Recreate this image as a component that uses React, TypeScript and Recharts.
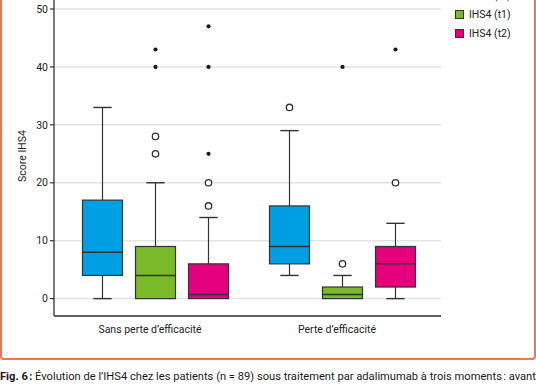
import React from "react";
import { ComposedChart, Bar, XAxis, YAxis, CartesianGrid } from "recharts";

const categories = ["Sans perte d’efficacité", "Perte d’efficacité"];
const seriesNames = ["IHS4 (t0)", "IHS4 (t1)", "IHS4 (t2)"];
const seriesColors = ["#009FE3", "#7AB929", "#E4007D"];

// per series, per category
const mins = [[0, 4], [0, 0], [0, 0]];
const q1s = [[4, 6], [0, 0], [0, 2]];
const medians = [[8, 9], [4, 0.7], [0.7, 6]];
const q3s = [[17, 16], [9, 2], [6, 9]];
const maxs = [[33, 29], [20, 4], [14, 13]];
const outlierCircles = [
  [[], [33]],
  [[28, 25], [6]],
  [[20, 16], [20]],
];
const outlierStars = [
  [[], []],
  [[43, 40], [40]],
  [[47, 40, 25], [43]],
];
const yTicks = [0, 10, 20, 30, 40, 50];

const rows = categories.map((name, i) => ({ name, i }));

const lowOf = (s: number, i: number) =>
  Math.min(mins[s][i], ...outlierCircles[s][i], ...outlierStars[s][i]);
const highOf = (s: number, i: number) =>
  Math.max(maxs[s][i], ...outlierCircles[s][i], ...outlierStars[s][i]);

const FONT = "Roboto, 'DejaVu Sans', sans-serif";
const INK = "#333333";

function BoxShape(props: any) {
  const { x, y, width, height, payload, s } = props;
  if (payload == null) return null;
  const i = payload.i;
  const lo = lowOf(s, i);
  const hi = highOf(s, i);
  const top = Math.min(y, y + height);
  const bottom = Math.max(y, y + height);
  const px = (v: number) => bottom - ((v - lo) / (hi - lo)) * (bottom - top);
  const cx = x + width / 2;
  const cap = width * 0.46;
  const q1 = px(q1s[s][i]);
  const q3 = px(q3s[s][i]);
  const med = px(medians[s][i]);
  const mn = px(mins[s][i]);
  const mx = px(maxs[s][i]);
  return (
    <g>
      {maxs[s][i] > q3s[s][i] && (
        <g>
          <line x1={cx} x2={cx} y1={q3} y2={mx} stroke={INK} strokeWidth={1.2} />
          <line x1={cx - cap / 2} x2={cx + cap / 2} y1={mx} y2={mx} stroke={INK} strokeWidth={1.4} />
        </g>
      )}
      {mins[s][i] < q1s[s][i] && (
        <g>
          <line x1={cx} x2={cx} y1={q1} y2={mn} stroke={INK} strokeWidth={1.2} />
          <line x1={cx - cap / 2} x2={cx + cap / 2} y1={mn} y2={mn} stroke={INK} strokeWidth={1.4} />
        </g>
      )}
      <rect
        x={x}
        y={q3}
        width={width}
        height={Math.max(q1 - q3, 1)}
        fill={seriesColors[s]}
        stroke={INK}
        strokeWidth={1.2}
      />
      <line x1={x} x2={x + width} y1={med} y2={med} stroke={INK} strokeWidth={1.5} />
      {outlierCircles[s][i].map((v: number, k: number) => (
        <circle key={"c" + k} cx={cx} cy={px(v)} r={3.2} fill="#fff" stroke={INK} strokeWidth={1.3} />
      ))}
      {outlierStars[s][i].map((v: number, k: number) => (
        <circle key={"s" + k} cx={cx} cy={px(v)} r={2.1} fill="#1a1a1a" />
      ))}
    </g>
  );
}

const XTick = (props: any) => {
  const { x, y, payload } = props;
  return (
    <text x={x - 5} y={y + 9} textAnchor="middle" fontSize={10.5} fill="#222" fontFamily={FONT}>
      {payload.value}
    </text>
  );
};

export default function App() {
  return (
    <div
      style={{
        position: "absolute",
        left: 0,
        top: 0,
        width: 536,
        height: 386,
        overflow: "hidden",
        background: "#fff",
        fontFamily: FONT,
      }}
    >
      <div
        style={{
          position: "absolute",
          left: 0,
          top: -20,
          width: 536,
          height: 380,
          boxSizing: "border-box",
          border: "2.5px solid #E9784F",
          borderTop: "none",
          borderRadius: 4,
        }}
      />
      <div style={{ position: "absolute", left: 0, top: -30 }}>
        <ComposedChart
          width={536}
          height={376}
          data={rows}
          margin={{ top: 10, right: 95, bottom: 0, left: 0 }}
          barSize={40}
          barGap={13}
        >
          <CartesianGrid horizontal vertical={false} stroke="#e3e3e3" strokeWidth={1.5} />
          <XAxis
            dataKey="name"
            type="category"
            padding={{ left: 7.5, right: 5.5 }}
            tickLine={false}
            axisLine={{ stroke: INK, strokeWidth: 1.3 }}
            tick={<XTick />}
            height={30}
            interval={0}
          />
          <YAxis
            type="number"
            domain={[-3, 55]}
            ticks={yTicks}
            allowDataOverflow
            width={54}
            tickSize={4}
            tickLine={{ stroke: INK, strokeWidth: 1.2 }}
            axisLine={{ stroke: INK, strokeWidth: 1.3 }}
            tick={{ fontSize: 10.5, fill: "#222", fontFamily: FONT }}
          />
          {seriesNames.map((nm, s) => (
            <Bar
              key={nm}
              name={nm}
              dataKey={(d: any) => [lowOf(s, d.i), highOf(s, d.i)]}
              fill={seriesColors[s]}
              isAnimationActive={false}
              shape={(p: any) => <BoxShape {...p} s={s} />}
            />
          ))}
        </ComposedChart>
      </div>
      <div
        style={{
          position: "absolute",
          left: 14,
          top: 141,
          width: 16,
          height: 30,
        }}
      >
        <div
          style={{
            position: "absolute",
            left: 8,
            top: 15,
            transform: "translate(-50%, -50%) rotate(-90deg)",
            whiteSpace: "nowrap",
            fontSize: 10.5,
            color: "#222",
          }}
        >
          Score IHS4
        </div>
      </div>
      <div style={{ position: "absolute", left: 455, top: -14.5 }}>
        {seriesNames.map((nm, s) => (
          <div key={nm} style={{ display: "flex", alignItems: "center", height: 19 }}>
            <div
              style={{
                width: 9,
                height: 9,
                background: seriesColors[s],
                border: "1px solid #333",
                boxSizing: "border-box",
                marginRight: 5,
              }}
            />
            <span style={{ fontSize: 10.5, color: "#222" }}>{nm}</span>
          </div>
        ))}
      </div>
      <div
        style={{
          position: "absolute",
          left: 0,
          top: 370,
          whiteSpace: "nowrap",
          fontSize: 11.15,
          color: "#1a1a1a",
        }}
      >
        <b>Fig. 6&#8239;:</b> Évolution de l’IHS4 chez les patients (n = 89) sous traitement par adalimumab à trois moments&#8239;: avant
      </div>
    </div>
  );
}
